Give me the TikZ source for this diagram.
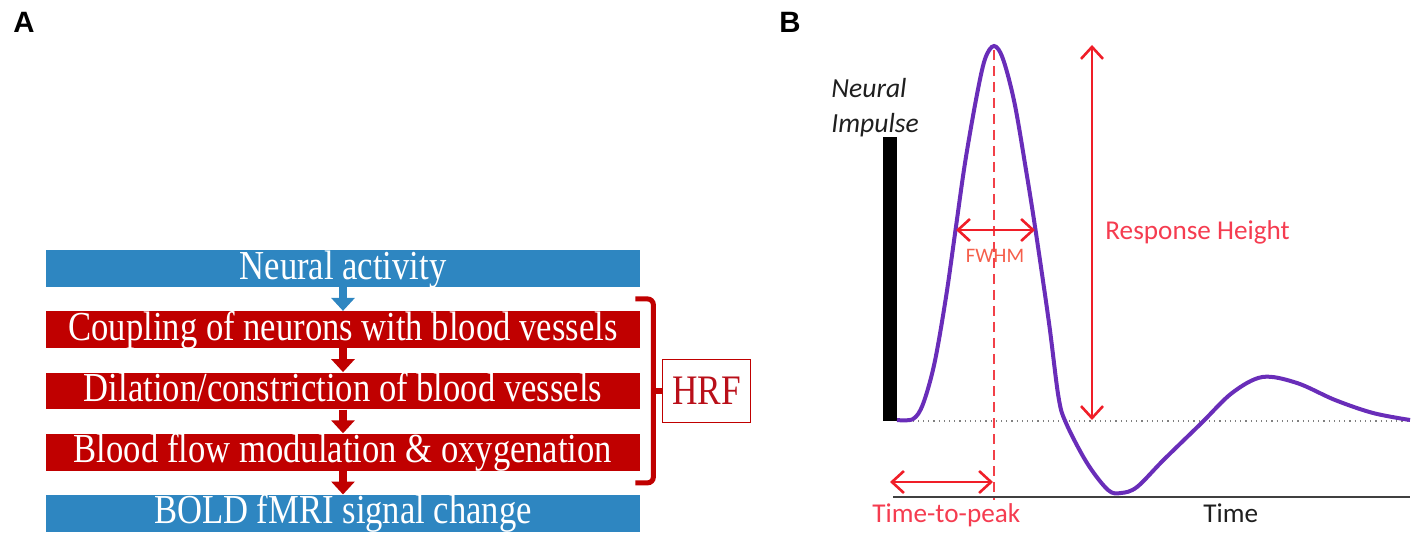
\documentclass[tikz,border=0pt]{standalone}
\usepackage{fontspec}
\setmainfont{Carlito}
\newfontfamily\barfont[FakeStretch=0.84]{Liberation Serif}
\newfontfamily\panelfont{Liberation Sans}
\usetikzlibrary{arrows.meta,positioning,calc}

\definecolor{barblue}{RGB}{46,134,193}
\definecolor{barred}{RGB}{192,0,0}
\definecolor{hrfpurple}{RGB}{105,45,185}
\definecolor{markred}{RGB}{240,30,40}
\definecolor{labred}{RGB}{245,60,80}
\definecolor{fwhmred}{RGB}{245,95,75}

\begin{document}
\begin{tikzpicture}[x=0.5pt, y=-0.5pt, node distance=11.8pt]
\tikzset{
    % bars of the cascade
    bar/.style={
           rectangle, inner sep=0pt,
           minimum width=297pt, minimum height=18.4pt,
           text height=14pt, text depth=3.4pt,
           text=white,
           font=\barfont\fontsize{20.6}{22}\selectfont},
    bluebar/.style={bar, fill=barblue},
    redbar/.style={bar, fill=barred},
    % short fat arrows between the bars
    link/.style={
           line width=4pt,
           -{Triangle[length=6.5pt,width=11.5pt]}},
    % red measuring arrows of the response
    meas/.style={
           draw=markred, line width=1.3pt,
           {Straight Barb[length=6pt,width=11pt]}-{Straight Barb[length=6pt,width=11pt]}},
    lab/.style={inner sep=0pt, font=\fontsize{13.6}{16}\selectfont}
}
\useasboundingbox (0,0) rectangle (1417,539);

%panel letters
\node[anchor=base west, inner sep=0pt, font=\panelfont\bfseries\fontsize{14.7}{16}\selectfont]
  (lettera) at (13,33) {A};
\node[anchor=base west, inner sep=0pt, font=\panelfont\bfseries\fontsize{14.7}{16}\selectfont]
  (letterb) at (779,33) {B};

%A: the cascade
\node[bluebar] (neural) at (343,268.5) {Neural activity};
\node[redbar, below=of neural] (coupling) {Coupling of neurons with blood vessels};
\node[redbar, below=of coupling] (dilation) {Dilation/constriction of blood vessels};
\node[redbar, below=of dilation] (flow) {Blood flow modulation \& oxygenation};
\node[bluebar, below=of flow] (bold) {BOLD fMRI signal change};

\draw[link, barblue] (neural.south) -- (coupling.north);
\draw[link, barred] (coupling.south) -- (dilation.north);
\draw[link, barred] (dilation.south) -- (flow.north);
\draw[link, barred] (flow.south) -- (bold.north);

% bracket round the red steps and the HRF box
\node[draw=barred, line width=0.8pt, minimum width=44pt, minimum height=31.5pt,
  inner sep=0pt, text={rgb,255:red,185;green,15;blue,25},
  font=\barfont\fontsize{21}{22}\selectfont]
  (hrf) at ($(dilation.east)+(66,0)$) {HRF};
\draw[barred, line width=2.5pt, rounded corners=3pt]
  ($(coupling.north east)+(-5,-12)$) -- ($(coupling.north east)+(13,-12)$)
  -- ($(flow.south east)+(13,12)$) -- ($(flow.south east)+(-5,12)$);
\draw[barred, line width=3pt] ($(dilation.east)+(13,0)$) -- (hrf.west);

%B: the response
\node[anchor=north west, align=left, inner sep=0pt, text=black!88,
  font=\itshape\fontsize{13.8}{17.5}\selectfont]
  (impulse) at (831,78) {Neural\\Impulse};
\fill[black] (883,137) rectangle (897,421);

\draw[gray, dotted, line width=0.6pt] (897,421) -- (1410,421);
\draw[black!75, line width=0.8pt] (893,497) -- (1410,497);

\draw[hrfpurple, line width=2pt] plot[smooth, tension=0.55] coordinates {
  (897,420) (913,419) (923,404) (934.5,363) (946,297) (955.5,230) (965,163)
  (976.5,97) (985,59) (994,46) (1003,59) (1014.5,103) (1026,170)
  (1035.5,230) (1049,323) (1058.5,397) (1066,423) (1087,463) (1108,490)
  (1121,493) (1137,487) (1163.5,460) (1201.5,423) (1232,393) (1262.5,377)
  (1297,383) (1335,400) (1373,413) (1410,420)};

\draw[markred!85, line width=1.4pt, dash pattern=on 5pt off 3pt] (994,50) -- (994,500);

\coordinate (rhtop) at (1092,45);
\coordinate (rhbot) at (1092,420);
\coordinate (fwl) at (956,230);
\coordinate (fwr) at (1035,230);
\coordinate (ttl) at (890,482);
\coordinate (ttr) at (993,482);
\draw[meas] (rhtop) -- (rhbot);
\draw[meas] (fwl) -- (fwr);
\draw[meas] (ttl) -- (ttr);

\node[lab, text=labred, anchor=base west] (height) at (1105,240) {Response Height};
\node[lab, text=fwhmred, anchor=base, font=\fontsize{10.3}{12}\selectfont] (fwhm) at (995,263) {FWHM};
\node[lab, text=labred, anchor=base west] (ttp) at (872,522) {Time-to-peak};
\node[lab, text=black!88, anchor=base west] (time) at (1203,522) {Time};
\end{tikzpicture}
\end{document}
